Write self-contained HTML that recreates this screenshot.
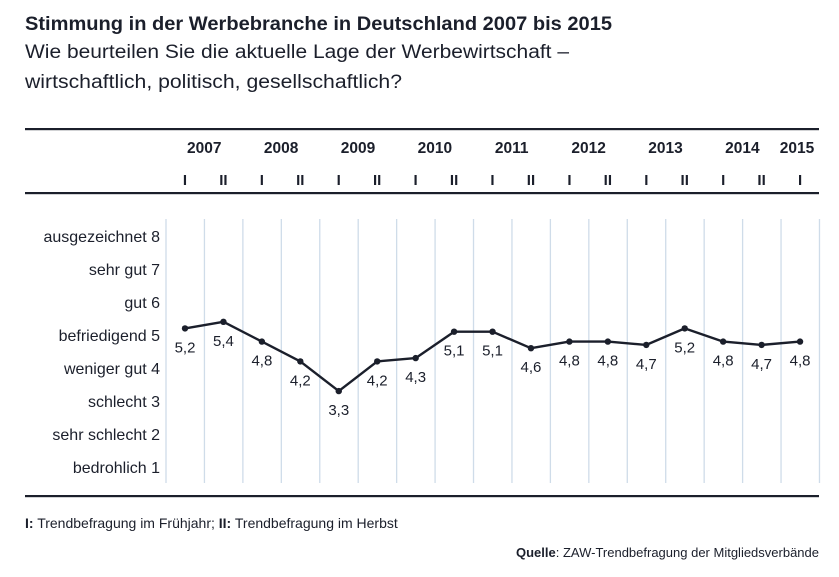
<!DOCTYPE html>
<html><head><meta charset="utf-8"><style>
html,body{margin:0;padding:0;background:#fff;}
svg{display:block;font-family:"Liberation Sans",sans-serif;}
</style></head><body>
<svg width="839" height="577" viewBox="0 0 839 577" xmlns="http://www.w3.org/2000/svg">
<g fill="#1b1f2b">
<text x="25" y="30" font-size="19" font-weight="bold" textLength="587" lengthAdjust="spacingAndGlyphs">Stimmung in der Werbebranche in Deutschland 2007 bis 2015</text>
<text x="25" y="58" font-size="19" textLength="544" lengthAdjust="spacingAndGlyphs">Wie beurteilen Sie die aktuelle Lage der Werbewirtschaft –</text>
<text x="25" y="88" font-size="19" textLength="377" lengthAdjust="spacingAndGlyphs">wirtschaftlich, politisch, gesellschaftlich?</text>
</g>
<rect x="25" y="128" width="794" height="2.2" fill="#1b1f2b"/>
<rect x="25" y="192" width="794" height="2.2" fill="#1b1f2b"/>
<rect x="25" y="495" width="794" height="2.2" fill="#1b1f2b"/>
<g stroke="#cfdce9" stroke-width="1.3" id="grid"></g>
<g font-size="15.5" font-weight="bold" fill="#1b1f2b" text-anchor="middle" id="years"></g>
<g font-size="15" font-weight="bold" fill="#1b1f2b" text-anchor="middle" id="rom"></g>
<g font-size="16" fill="#1b1f2b" text-anchor="end">
<text x="160" y="242">ausgezeichnet 8</text>
<text x="160" y="275">sehr gut 7</text>
<text x="160" y="308">gut 6</text>
<text x="160" y="341">befriedigend 5</text>
<text x="160" y="374">weniger gut 4</text>
<text x="160" y="407">schlecht 3</text>
<text x="160" y="440">sehr schlecht 2</text>
<text x="160" y="473">bedrohlich 1</text>
</g>
<polyline id="line" fill="none" stroke="#1b1f2b" stroke-width="2.4" stroke-linejoin="round"/>
<g id="dots" fill="#1b1f2b"></g>
<g id="vals" font-size="15" fill="#1b1f2b" text-anchor="middle"></g>
<g font-size="14" fill="#1b1f2b">
<text x="25" y="528"><tspan font-weight="bold">I:</tspan> Trendbefragung im Frühjahr; <tspan font-weight="bold">II:</tspan> Trendbefragung im Herbst</text>
<text x="819" y="557" text-anchor="end" font-size="13"><tspan font-weight="bold">Quelle</tspan>: ZAW-Trendbefragung der Mitgliedsverbände</text>
</g>
<script>
var ns="http://www.w3.org/2000/svg";
function el(p,t,a,txt){var e=document.createElementNS(ns,t);for(var k in a)e.setAttribute(k,a[k]);if(txt)e.textContent=txt;document.getElementById(p).appendChild(e);return e;}
var sp=38.44;
for(var k=0;k<=17;k++){var x=166+sp*k;el("grid","line",{x1:x,x2:x,y1:219,y2:483});}
var years=["2007","2008","2009","2010","2011","2012","2013","2014"];
for(var i=0;i<8;i++){el("years","text",{x:185+sp*(2*i+0.5),y:153},years[i]);}
el("years","text",{x:797,y:153},"2015");
var v=[5.2,5.4,4.8,4.2,3.3,4.2,4.3,5.1,5.1,4.6,4.8,4.8,4.7,5.2,4.8,4.7,4.8];
var pts=[];
for(var i=0;i<17;i++){var x=185+sp*i,y=236+(8-v[i])*33;pts.push(x+","+y);
el("rom","text",{x:x,y:185},i%2==0?"I":"II");
el("dots","circle",{cx:x,cy:y,r:3.2});
el("vals","text",{x:x,y:y+24},String(v[i]).replace(".",","));}
document.getElementById("line").setAttribute("points",pts.join(" "));
</script>
</svg>
</body></html>
